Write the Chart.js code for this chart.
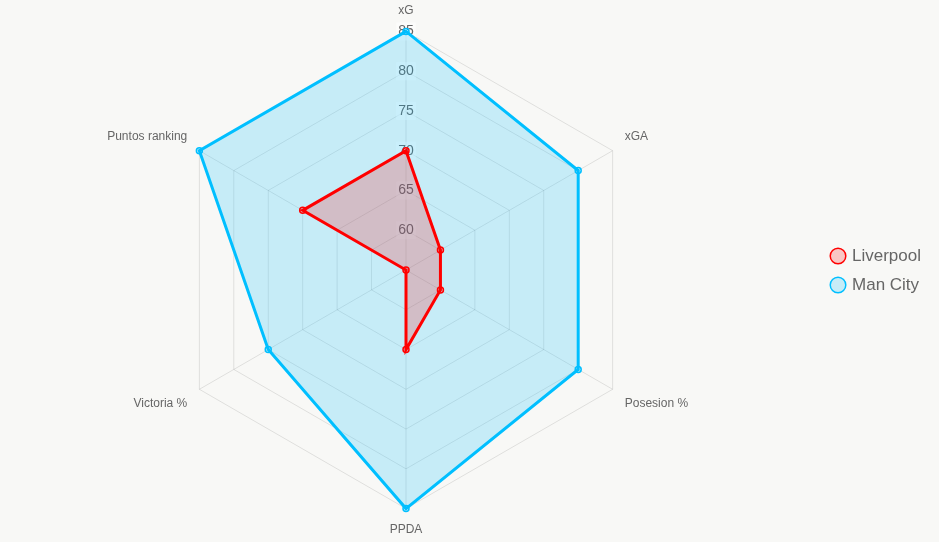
<!DOCTYPE html>
<html>
<head>
<meta charset="utf-8">
<script src="https://cdn.jsdelivr.net/npm/chart.js@4"></script>
<style>
  html, body { margin: 0; padding: 0; background: #f8f8f6; overflow: hidden; }
  /* shifted a bit so the radar sits left of centre like the original */
  #wrap { position: relative; left: -8px; width: 947px; height: 542px; }
</style>
</head>
<body>
<div id="wrap"><canvas id="radar"></canvas></div>
<script>
const labels = ["xG", "xGA", "Posesion %", "PPDA", "Victoria %", "Puntos ranking"];
const liverpool = [70, 60, 60, 65, 55, 70];
const manCity = [85, 80, 80, 85, 75, 85];

Chart.defaults.font.family = "'Liberation Sans', Arial, Helvetica, sans-serif";
Chart.defaults.color = "#666";

let ctx = document.getElementById("radar").getContext("2d");
let chart = new Chart(ctx, {
  type: "radar",
  data: {
    labels: labels,
    datasets: [
      {
        label: "Liverpool",
        data: liverpool,
        borderColor: "rgb(255, 0, 0)",
        backgroundColor: "rgba(255, 0, 0, 0.2)",
        pointBackgroundColor: "rgba(255, 0, 0, 0.2)",
        borderWidth: 3,
        pointRadius: 3,
        pointBorderWidth: 1.5,
      },
      {
        label: "Man City",
        data: manCity,
        borderColor: "rgb(0, 191, 255)",
        backgroundColor: "rgba(0, 191, 255, 0.2)",
        pointBackgroundColor: "rgba(0, 191, 255, 0.2)",
        borderWidth: 3,
        pointRadius: 3,
        pointBorderWidth: 1.5,
      },
    ],
  },
  options: {
    responsive: true,
    maintainAspectRatio: false,
    animation: false,
    layout: { padding: { top: 3, bottom: 4, left: 0, right: 8 } },
    plugins: {
      legend: {
        position: "right",
        labels: {
          usePointStyle: true,
          pointStyle: "circle",
          font: { size: 17 },
          color: "#666",
          boxWidth: 11,
          boxHeight: 11,
          padding: 12,
        },
      },
    },
    scales: {
      r: {
        min: 55,
        max: 85,
        ticks: {
          stepSize: 5,
          font: { size: 14 },
          color: "#666",
          backdropColor: "rgba(255, 255, 255, 0.5)",
        },
        pointLabels: { font: { size: 12 }, color: "#666" },
        grid: { color: "rgba(0, 0, 0, 0.1)" },
        angleLines: { color: "rgba(0, 0, 0, 0.1)" },
      },
    },
  },
});
</script>
</body>
</html>
